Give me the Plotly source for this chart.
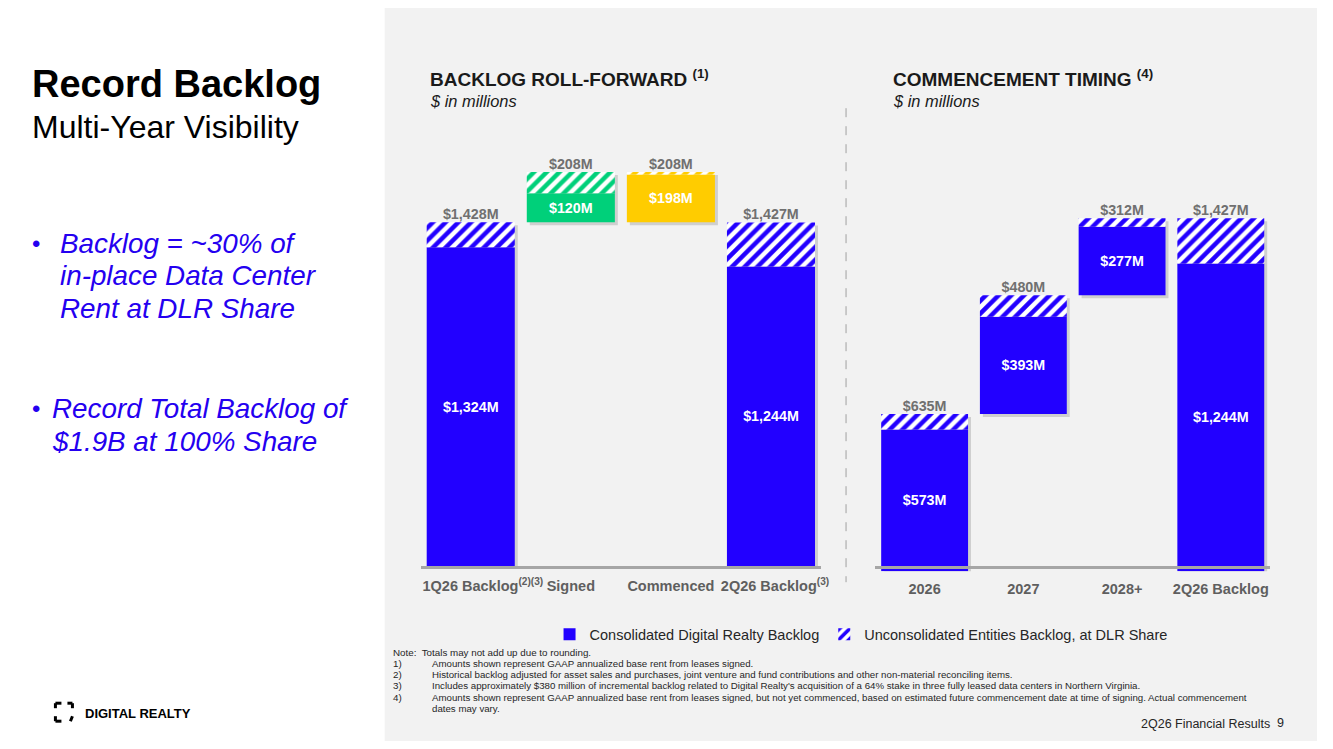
import plotly.graph_objects as go

# ---- data ----
roll_cats = ["1Q26 Backlog", "Signed", "Commenced", "2Q26 Backlog"]
roll_ticks = ["&nbsp;&nbsp;&nbsp;&nbsp;&nbsp;&nbsp;1Q26 Backlog<sup>(2)(3)</sup>", "Signed",
              "Commenced", "&nbsp;&nbsp;2Q26 Backlog<sup>(3)</sup>"]
roll_consolidated = [1324, 120, 198, 1244]
roll_unconsolidated = [104, 88, 10, 183]
roll_totals = [1428, 208, 208, 1427]

timing_cats = ["2026", "2027", "2028+", "2Q26 Backlog"]
timing_consolidated = [573, 393, 277, 1244]
timing_unconsolidated = [62, 87, 35, 183]
timing_totals = [635, 480, 312, 1427]

BLUE = "#2200ff"
GREEN = "#00d07a"
YELLOW = "#ffcc00"
roll_colors = [BLUE, GREEN, YELLOW, BLUE]
timing_colors = [BLUE, BLUE, BLUE, BLUE]

# waterfall bases
roll_base = [0, roll_totals[0], roll_totals[0] + roll_totals[1] - roll_totals[2], 0]
timing_base = [0, timing_totals[0], timing_totals[0] + timing_totals[1], 0]

# slide pixel -> paper (calibrated to the rendered canvas)
X0, XW = 30.6, 1286.0
Y0, YH = 7.8, 733.0


def px(x):
    return (x - X0) / XW


def py(y):
    return 1 - (y - Y0) / YH


fig = go.Figure()


def add_waterfall(cats, base, consol, unconsol, totals, colors, xa, ya, show, shadow_dy):
    top_base = [b + c for b, c in zip(base, consol)]
    # soft drop shadow
    fig.add_trace(go.Bar(
        x=cats, y=totals, base=[b - shadow_dy for b in base], xaxis=xa, yaxis=ya,
        width=0.88, offset=-0.41, marker=dict(color="rgba(0,0,0,0.14)", line=dict(width=0)),
        showlegend=False, hoverinfo="skip"))
    fig.add_trace(go.Bar(
        x=cats, y=consol, base=base, xaxis=xa, yaxis=ya, width=0.88,
        marker=dict(color=colors, line=dict(width=0)),
        texttemplate="<b>$%{y:,}M</b>", textposition="inside",
        insidetextanchor="middle", constraintext="none",
        textfont=dict(color="white", size=14.3, family="Arial"),
        name="Consolidated Digital Realty Backlog", showlegend=show,
        legendgroup="c", hoverinfo="skip"))
    fig.add_trace(go.Bar(
        x=cats, y=unconsol, base=top_base, xaxis=xa, yaxis=ya, width=0.88,
        marker=dict(color="white", line=dict(width=0),
                    pattern=dict(shape="/", fgcolor=colors, bgcolor="white",
                                 fgopacity=1, size=9, solidity=0.5)),
        name="Unconsolidated Entities Backlog, at DLR Share", showlegend=show,
        legendgroup="u", hoverinfo="skip"))
    fig.add_trace(go.Scatter(
        x=cats, y=[b + t for b, t in zip(base, totals)], xaxis=xa, yaxis=ya,
        mode="text", text=[f"<b>${t:,}M</b>" for t in totals],
        textposition="top center", textfont=dict(color="#707070", size=14.3, family="Arial"),
        showlegend=False, hoverinfo="skip"))


add_waterfall(roll_cats, roll_base, roll_consolidated, roll_unconsolidated,
              roll_totals, roll_colors, "x", "y", True, 12.5)
add_waterfall(timing_cats, timing_base, timing_consolidated, timing_unconsolidated,
              timing_totals, timing_colors, "x2", "y2", False, 12)

tickfont = dict(family="Arial", size=14.5, color="#5f5f5f", weight="bold")
fig.update_layout(
    margin=dict(l=0, r=0, t=0, b=0),
    paper_bgcolor="white", plot_bgcolor="rgba(0,0,0,0)",
    barmode="overlay", font=dict(family="Arial"),
    xaxis=dict(domain=[px(421), px(821)], type="category", range=[-0.5, 3.5],
               tickvals=roll_cats, ticktext=roll_ticks, tickfont=tickfont, tickangle=0,
               showline=True, linecolor="#a6a6a6", linewidth=2.5, showgrid=False,
               ticks="", ticklabelstandoff=5, fixedrange=True),
    yaxis=dict(domain=[py(566), py(566 - 1800 * 0.2409)], range=[0, 1800],
               visible=False, fixedrange=True),
    xaxis2=dict(domain=[px(875.2), px(1269.8)], type="category", range=[-0.5, 3.5],
                tickfont=tickfont, tickangle=0, showline=True, linecolor="#a6a6a6",
                linewidth=2.5, showgrid=False, ticks="", ticklabelstandoff=8,
                fixedrange=True),
    yaxis2=dict(domain=[py(571), py(571 - 1800 * 0.2474)], range=[0, 1800],
                visible=False, fixedrange=True),
    legend=dict(orientation="h", x=px(861), xanchor="center", y=py(634),
                yanchor="middle", font=dict(size=14.5, color="#262626", family="Arial"),
                bgcolor="rgba(0,0,0,0)", itemwidth=30),
)

shapes = [
    dict(type="rect", xref="paper", yref="paper", x0=px(385), x1=1, y0=0, y1=1,
         fillcolor="#f2f2f2", line=dict(width=0), layer="below"),
    dict(type="line", xref="paper", yref="paper", x0=px(846), x1=px(846),
         y0=py(108), y1=py(582), line=dict(color="#a0a0a0", width=1, dash="dash")),
]
# logo bracket icon
for seg in [((56, 703), (62, 703)), ((56, 703), (56, 708)), ((56, 716), (56, 721)),
            ((56, 721), (62, 721)), ((68, 703), (73, 703)), ((73, 703), (73, 708)),
            ((73, 716), (71, 721))]:
    (xa, ya), (xb, yb) = seg
    shapes.append(dict(type="line", xref="paper", yref="paper", x0=px(xa), x1=px(xb),
                       y0=py(ya), y1=py(yb), line=dict(color="black", width=3)))
fig.update_layout(shapes=shapes)


def note(text, x, y, size, color="#000", xanchor="left", **font):
    fig.add_annotation(text=text, x=px(x), y=py(y), xref="paper", yref="paper",
                       xanchor=xanchor, yanchor="middle", showarrow=False, align="left",
                       font=dict(size=size, color=color, family="Arial", **font))


note("<b>Record Backlog</b>", 31, 84, 38)
note("Multi-Year Visibility", 31, 127, 32)

BULLET = "#2400f0"
for txt, y in [("Backlog = ~30% of", 243), ("in-place Data Center", 275),
               ("Rent at DLR Share", 308)]:
    note(txt, 59, y, 27.8, BULLET, style="italic")
note("•", 31, 243, 24, BULLET)
for txt, y in [("Record Total Backlog of", 408), ("$1.9B at 100% Share", 441)]:
    note(txt, 51, y, 27.8, BULLET, style="italic")
note("•", 31, 408, 24, BULLET)

note("<b>BACKLOG ROLL-FORWARD</b> <sup><b>(1)</b></sup>", 428, 78, 19, "#1a1a1a")
note("<i>$ in millions</i>", 428, 101, 16.4, "#1a1a1a")
note("<b>COMMENCEMENT TIMING</b> <sup><b>(4)</b></sup>", 891, 78, 19, "#1a1a1a")
note("<i>$ in millions</i>", 891, 101, 16.4, "#1a1a1a")

foot = [
    ("Note:  Totals may not add up due to rounding.", None, 652),
    ("1)", "Amounts shown represent GAAP annualized base rent from leases signed.", 663),
    ("2)", "Historical backlog adjusted for asset sales and purchases, joint venture and fund "
           "contributions and other non-material reconciling items.", 674),
    ("3)", "Includes approximately $380 million of incremental backlog related to Digital "
           "Realty's acquisition of a 64% stake in three fully leased data centers in "
           "Northern Virginia.", 685),
    ("4)", "Amounts shown represent GAAP annualized base rent from leases signed, but not yet "
           "commenced, based on estimated future commencement date at time of signing. "
           "Actual commencement", 697),
    ("", "dates may vary.", 708),
]
for lead, body, y in foot:
    if lead:
        note(lead, 391, y, 9.8, "#262626")
    if body:
        note(body, 430, y, 9.7, "#262626")

note("2Q26 Financial Results", 1272, 724, 12.5, "#262626", xanchor="right")
note("9", 1286, 723, 12.5, "#262626", xanchor="right")
note("<b>DIGITAL REALTY</b>", 84, 713, 13, "#000")

fig.write_html("out.html")
